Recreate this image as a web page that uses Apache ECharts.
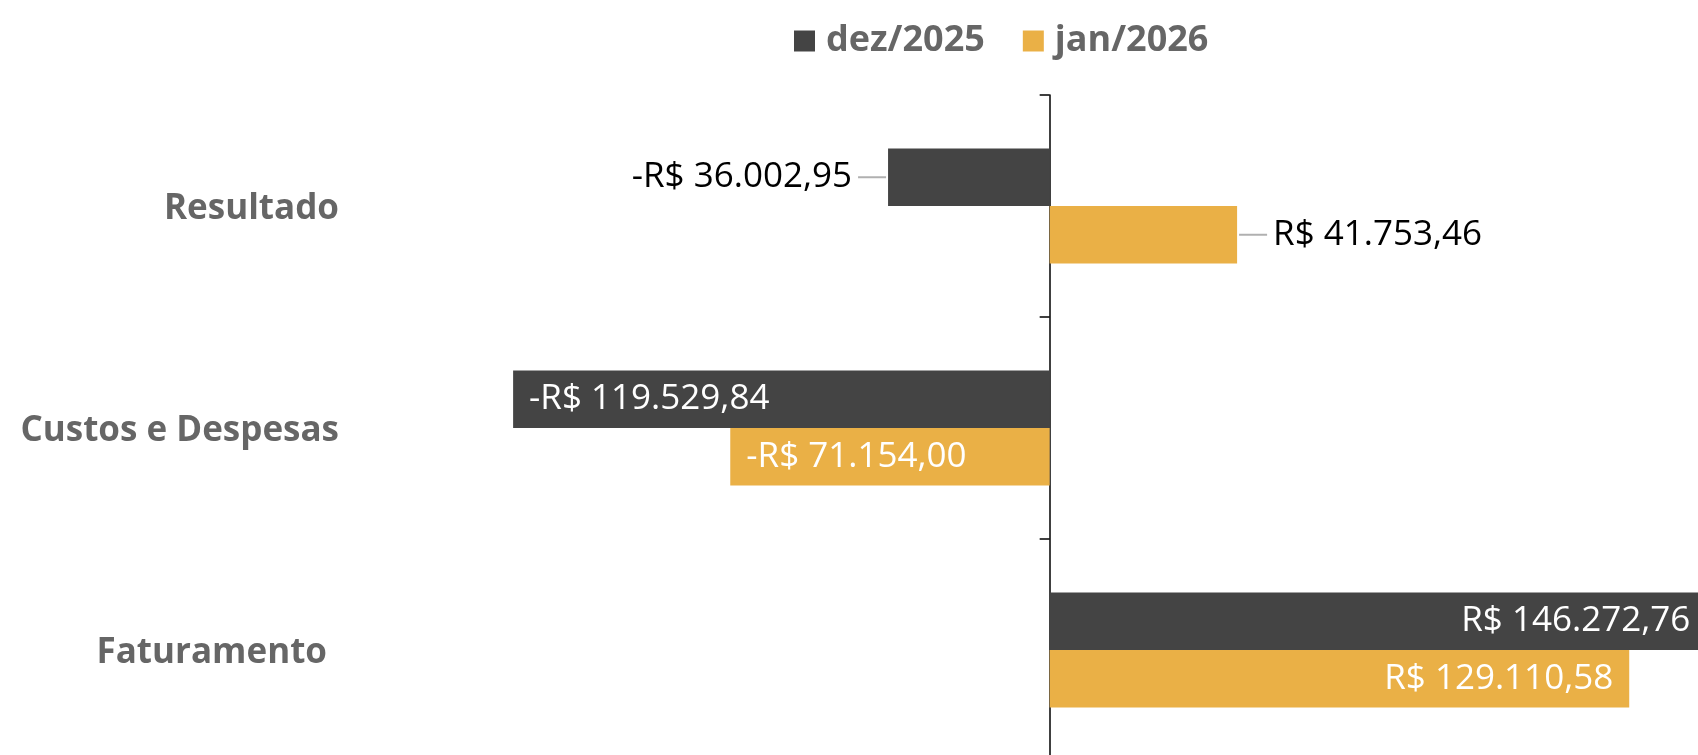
<!DOCTYPE html>
<html>
<head>
<meta charset="utf-8">
<script src="https://cdn.jsdelivr.net/npm/echarts@6/dist/echarts.min.js"></script>
<style>
  html, body { margin: 0; padding: 0; background: #fff; }
  #chart { width: 1698px; height: 755px; }
</style>
</head>
<body>
<div id="chart"></div>
<script>
// data
const categories = ["Resultado", "Custos e Despesas", "Faturamento"];
const dez2025 = [-36002.95, -119529.84, 146272.76];
const jan2026 = [41753.46, -71154.0, 129110.58];
const seriesNames = ["dez/2025", "jan/2026"];
const seriesColors = ["#444444", "#EAB046"];

// R$ format, pt-BR style
function brl(v) {
  const parts = Math.abs(v).toFixed(2).split(".");
  const int = parts[0].replace(/\B(?=(\d{3})+(?!\d))/g, ".");
  return (v < 0 ? "-" : "") + "R$ " + int + "," + parts[1];
}

// long bars get the label inside, short ones outside with a small leader line
function barData(values) {
  return values.map(function (v) {
    let label;
    if (Math.abs(v) > 60000) {
      label = {
        position: v < 0 ? "insideLeft" : "insideRight",
        distance: 16,
        color: "#fff",
        formatter: brl(v)
      };
    } else if (v < 0) {
      label = { position: "left", distance: 2, formatter: "{v|" + brl(v) + "}{g|}{ln|}" };
    } else {
      label = { position: "right", distance: 2, formatter: "{ln|}{g|}{v|" + brl(v) + "}" };
    }
    return { value: v, label: label };
  });
}

const labelBase = {
  show: true,
  fontFamily: "Open Sans",
  fontSize: 35,
  color: "#000",
  rich: {
    v: { fontFamily: "Open Sans", fontSize: 35, color: "#000" },
    g: { width: 6 },
    ln: { width: 28, height: 2, backgroundColor: "#b0b0b0" }
  }
};

const catText = { fontFamily: "Open Sans", fontSize: 35, fontWeight: "bold", color: "#666" };

const chart = echarts.init(document.getElementById("chart"), null, { renderer: "canvas" });

chart.setOption({
  animation: false,
  legend: {
    data: seriesNames,
    left: 789,
    top: 18,
    icon: "rect",
    itemWidth: 21,
    itemHeight: 21,
    itemGap: 38,
    textStyle: {
      fontFamily: "Open Sans",
      fontSize: 36,
      fontWeight: "bold",
      color: "#666",
      padding: [0, 0, 0, 6]
    }
  },
  grid: { left: 511, width: 1212, top: 95, height: 666, containLabel: false, outerBoundsMode: "none" },
  xAxis: {
    type: "value",
    min: -120000,
    max: 150000,
    show: false,
    splitLine: { show: false }
  },
  yAxis: [
    {
      // category names, placed at the grid's left side
      type: "category",
      data: categories,
      inverse: true,
      position: "left",
      axisLine: { show: false, onZero: false },
      axisTick: { show: false },
      axisLabel: {
        margin: 172,
        formatter: function (name, i) {
          return i === 2 ? "{f|" + name + "}" : "{c|" + name + "}";
        },
        rich: {
          c: Object.assign({ padding: [7, 0, 0, 0] }, catText),
          f: Object.assign({ padding: [7, 12, 0, 0] }, catText)
        }
      }
    },
    {
      // the zero line with its ticks
      type: "category",
      data: categories,
      inverse: true,
      position: "left",
      axisLine: { show: true, onZero: true, lineStyle: { color: "#000", width: 1.5 } },
      axisTick: { show: true, length: 10, lineStyle: { color: "#000", width: 1.5 } },
      axisLabel: { show: false }
    }
  ],
  series: [
    {
      name: seriesNames[0],
      type: "bar",
      data: barData(dez2025),
      barWidth: 57.5,
      barGap: "0%",
      itemStyle: { color: seriesColors[0] },
      label: labelBase
    },
    {
      name: seriesNames[1],
      type: "bar",
      data: barData(jan2026),
      barWidth: 57.5,
      barGap: "0%",
      itemStyle: { color: seriesColors[1] },
      label: labelBase
    }
  ]
});
</script>
</body>
</html>
